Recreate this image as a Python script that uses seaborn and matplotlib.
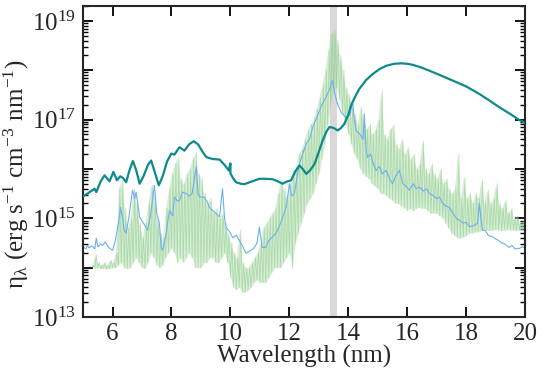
import numpy as np
import pandas as pd
import matplotlib
matplotlib.use("Agg")
import matplotlib.pyplot as plt
import matplotlib.ticker as mticker
import seaborn as sns

# ---------------- data (log10 of emissivity) ----------------
teal_wl = [5.0, 5.05, 5.2, 5.39, 5.45, 5.6, 5.73, 5.9, 6.03, 6.15, 6.26, 6.35, 6.46, 6.58, 6.69,
           6.8, 6.92, 7.05, 7.2, 7.31, 7.45, 7.57, 7.7, 7.85, 7.99, 8.1, 8.27, 8.44, 8.6, 8.75,
           8.9, 9.05, 9.18, 9.4, 9.63, 9.8, 9.94, 10.0, 10.0, 10.1, 10.19, 10.35, 10.47, 10.7,
           10.98, 11.2, 11.43, 11.6, 11.77, 11.9, 12.06, 12.2, 12.34, 12.45, 12.57, 12.7, 12.85,
           13.0, 13.13, 13.25, 13.36, 13.5, 13.64, 13.75, 13.86, 14.0, 14.09, 14.2, 14.37, 14.6,
           14.82, 15.05, 15.28, 15.55, 15.79, 16.0, 16.18, 16.45, 16.75, 17.15, 17.54, 18.0,
           18.44, 18.8, 19.12, 19.5, 19.8, 20.0]
teal_log = [15.45, 15.46, 15.52, 15.6, 15.53, 15.75, 15.87, 15.75, 15.94, 15.77, 15.85, 15.82,
            15.73, 15.98, 16.16, 15.98, 15.70, 15.85, 16.08, 16.17, 15.9, 15.67, 15.85, 16.15,
            16.31, 16.29, 16.44, 16.37, 16.5, 16.56, 16.5, 16.35, 16.24, 16.2, 16.19, 16.08,
            15.97, 16.11, 15.91, 15.8, 15.73, 15.7, 15.69, 15.74, 15.8, 15.8, 15.79, 15.75, 15.7,
            15.74, 15.77, 15.95, 16.07, 16.0, 15.9, 15.97, 16.1, 16.35, 16.58, 16.75, 16.85,
            16.83, 16.78, 16.83, 16.91, 17.1, 17.28, 17.43, 17.62, 17.8, 17.92, 18.02, 18.09,
            18.13, 18.14, 18.13, 18.11, 18.06, 17.99, 17.89, 17.79, 17.67, 17.52, 17.38, 17.25,
            17.11, 16.99, 16.93]

blue_wl = [5.0, 5.1, 5.15, 5.2, 5.3, 5.4, 5.45, 5.5, 5.6, 5.67, 5.75, 5.85, 6.0, 6.1, 6.2, 6.27,
           6.34, 6.4, 6.46, 6.55, 6.62, 6.68, 6.75, 6.8, 6.92, 7.0, 7.1, 7.19, 7.3, 7.42, 7.5,
           7.59, 7.65, 7.7, 7.8, 7.93, 8.04, 8.1, 8.2, 8.27, 8.37, 8.5, 8.6, 8.7, 8.84, 8.9, 8.95,
           9.1, 9.2, 9.29, 9.4, 9.5, 9.63, 9.73, 9.8, 9.85, 10.0, 10.08, 10.2, 10.3, 10.4, 10.53,
           10.6, 10.7, 10.8, 10.9, 10.98, 11.08, 11.2, 11.3, 11.42, 11.55, 11.7, 11.89, 12.0,
           12.08, 12.17, 12.25, 12.34, 12.45, 12.57, 12.68, 12.79, 12.9, 13.02, 13.1, 13.24,
           13.35, 13.46, 13.55, 13.63, 13.75, 13.92, 14.05, 14.14, 14.2, 14.26, 14.4, 14.5,
           14.54, 14.6, 14.65, 14.75, 14.85, 14.94, 15.05, 15.15, 15.28, 15.4, 15.5, 15.6,
           15.73, 15.85, 15.95, 16.07, 16.2, 16.3, 16.41, 16.55, 16.65, 16.75, 16.9, 17.0,
           17.09, 17.2, 17.3, 17.42, 17.55, 17.66, 17.76, 17.9, 18.0, 18.1, 18.25, 18.38,
           18.44, 18.55, 18.65, 18.75, 18.9, 19.0, 19.1, 19.2, 19.3, 19.45, 19.55, 19.65,
           19.8, 19.9, 20.0]
blue_log = [14.42, 14.38, 14.45, 14.40, 14.44, 14.38, 14.6, 14.42, 14.48, 14.45, 14.52, 14.42,
            14.35, 14.56, 14.9, 15.22, 15.0, 14.75, 14.7, 15.0, 15.3, 15.57, 15.4, 15.53, 15.02,
            14.95, 14.85, 14.76, 15.1, 15.67, 15.1, 14.9, 14.4, 14.35, 14.62, 15.16, 15.05,
            15.43, 15.35, 15.36, 15.53, 15.5, 15.45, 15.5, 16.04, 15.5, 15.43, 15.43, 15.35,
            15.22, 15.16, 15.1, 15.03, 15.6, 15.0, 14.82, 14.7, 14.6, 14.66, 14.55, 14.45,
            14.29, 14.32, 14.35, 14.4, 14.5, 14.82, 14.41, 14.41, 14.55, 14.62, 14.7, 14.9,
            15.22, 15.7, 15.45, 15.5, 15.8, 16.1, 16.3, 16.51, 16.6, 16.84, 17.0, 17.18, 17.3,
            17.45, 17.6, 17.79, 17.5, 17.32, 17.15, 17.04, 17.1, 17.38, 17.0, 16.78, 16.7,
            16.6, 17.12, 16.4, 16.23, 16.3, 16.1, 15.97, 16.05, 15.9, 15.97, 15.8, 15.7, 15.85,
            15.97, 15.7, 15.65, 15.57, 15.7, 15.6, 15.63, 15.55, 15.6, 15.5, 15.45, 15.4,
            15.43, 15.3, 15.25, 15.22, 15.1, 15.0, 14.96, 14.9, 14.92, 14.83, 14.85, 14.9,
            15.3, 14.76, 14.75, 14.65, 14.62, 14.58, 14.55, 14.5, 14.48, 14.41, 14.45, 14.38,
            14.39, 14.42, 14.4]

# green spectrum: troughs (lo) and peaks (hi), one pair every 0.1 nm from 5.3 nm
green_start = 5.3
green_lo = [14.0, 13.99, 14.0, 13.98, 13.98, 13.97, 13.98, 14.0, 14.0, 14.05, 14.1, 14.0, 13.98,
            14.0, 14.1, 14.2, 14.1, 14.0, 13.98, 14.1, 14.3, 14.2, 14.05, 14.0, 14.05, 14.2,
            14.3, 14.4, 14.3, 14.1, 14.2, 14.1, 14.2, 14.3, 14.2, 14.0, 14.0, 14.0, 14.1, 14.1,
            14.2, 14.2, 14.1, 14.1, 14.2, 14.3, 14.1, 13.8, 13.6, 13.55, 13.6, 13.5, 13.5,
            13.55, 13.6, 13.7, 13.75, 13.7, 13.7, 13.7, 13.8, 13.9, 14.0, 14.0, 14.0, 14.1,
            14.2, 14.3, 13.99, 14.5, 14.7, 14.9, 15.1, 15.3, 15.4, 15.5, 15.7, 15.9, 16.2,
            16.5, 16.9, 17.3, 17.6, 17.65, 17.4, 17.1, 16.9, 16.72, 16.5, 16.3, 16.2, 16.0,
            15.9, 15.85, 15.8, 15.7, 15.65, 15.6, 15.5, 15.5, 15.45, 15.4, 15.36, 15.3, 15.3,
            15.25, 15.2, 15.16, 15.2, 15.15, 15.2, 15.22, 15.2, 15.2, 15.15, 15.1, 15.1, 15.1,
            15.05, 15.0, 14.9, 14.8, 14.7, 14.65, 14.6, 14.6, 14.62, 14.65, 14.7, 14.7, 14.72,
            14.72, 14.75, 14.75, 14.76, 14.75, 14.76, 14.77, 14.76, 14.75, 14.76, 14.77, 14.76,
            14.76, 14.75, 14.76, 14.75, 14.76]
green_hi = [14.05, 14.25, 14.1, 14.05, 14.1, 14.05, 14.15, 14.1, 14.3, 15.6, 15.77, 15.2, 14.8,
            15.0, 15.6, 15.3, 14.9, 14.6, 14.9, 15.3, 15.67, 15.5, 15.0, 14.7, 14.6, 15.2, 15.6,
            15.9, 16.1, 16.23, 15.8, 15.7, 15.9, 16.0, 16.2, 16.33, 15.9, 15.8, 15.5, 15.3,
            15.4, 15.1, 15.2, 15.0, 15.1, 14.9, 14.7, 14.5, 14.3, 14.2, 14.76, 14.1, 14.0, 14.0,
            14.1, 14.2, 14.3, 14.5, 14.8, 14.9, 15.0, 15.1, 15.2, 15.5, 15.77, 15.6, 15.4, 15.7,
            15.97, 16.0, 16.3, 16.4, 16.6, 16.78, 16.9, 17.0, 17.2, 17.45, 17.7, 18.0, 18.4,
            18.75, 18.8, 18.6, 18.3, 18.0, 17.65, 17.5, 17.3, 17.1, 16.9, 17.25, 17.0, 16.8,
            16.9, 16.7, 16.8, 17.0, 17.59, 16.7, 16.6, 16.8, 16.9, 16.5, 16.4, 16.6, 16.3, 16.43,
            16.2, 16.3, 16.0, 16.1, 16.57, 16.0, 15.9, 16.1, 15.9, 15.8, 16.0, 15.7, 15.8, 15.6,
            15.5, 15.6, 16.3, 15.4, 15.83, 15.4, 15.5, 15.3, 15.5, 15.4, 15.77, 15.3, 15.57,
            15.3, 15.4, 15.7, 15.3, 15.2, 15.36, 15.1, 15.2, 15.0, 15.05, 14.9, 14.95, 14.85]

band = (13.36, 13.6)
y_decades = [13, 14, 15, 16, 17, 18, 19]

# ---------------- build frames ----------------
teal_df = pd.DataFrame({"wl": teal_wl, "eta": 10.0 ** np.array(teal_log)})
blue_df = pd.DataFrame({"wl": blue_wl, "eta": 10.0 ** np.array(blue_log)})
n = len(green_lo)
g_x_lo = green_start + 0.1 * np.arange(n)
g_x_hi = g_x_lo + 0.05
gx = np.empty(2 * n); gy = np.empty(2 * n)
gx[0::2] = g_x_lo; gx[1::2] = g_x_hi
gy[0::2] = green_lo; gy[1::2] = green_hi
green_df = pd.DataFrame({"wl": gx, "eta": 10.0 ** gy})

# ---------------- style ----------------
sns.set_style("ticks")
plt.rcParams["font.family"] = ["Liberation Serif", "DejaVu Serif"]
plt.rcParams["mathtext.fontset"] = "stix"
plt.rcParams["axes.linewidth"] = 1.5

fig = plt.figure(figsize=(5.5, 3.76), dpi=100)
ax = fig.add_axes([0.151, 0.157, 0.804, 0.827])

ax.axvspan(band[0], band[1], color="#d9d9d9", lw=0, zorder=0)

# green: translucent band between troughs and peaks plus the spiky trace
ax.fill_between(g_x_lo, 10.0 ** np.array(green_lo), 10.0 ** np.array(green_hi),
                color="#a8d9a4", alpha=0.45, lw=0, zorder=1)
sns.lineplot(data=green_df, x="wl", y="eta", ax=ax, color="#8ccc88", lw=0.55, alpha=0.6,
             estimator=None, sort=False, zorder=1)
sns.lineplot(data=blue_df, x="wl", y="eta", ax=ax, color="#6eaff0", lw=0.8,
             estimator=None, sort=False, zorder=2)
ax.plot(teal_df["wl"], teal_df["eta"], color="#0c8a8c", lw=1.6, zorder=3,
        solid_joinstyle="round")

ax.set_yscale("log")
ax.set_xlim(5, 20)
ax.set_ylim(1e13, 2e19)

ax.xaxis.set_major_locator(mticker.MultipleLocator(2))
ax.yaxis.set_major_locator(mticker.FixedLocator([10.0 ** e for e in y_decades]))
ax.yaxis.set_minor_locator(mticker.LogLocator(base=10, subs=np.arange(2, 10), numticks=20))
ax.yaxis.set_major_formatter(mticker.FixedFormatter(
    [r"$\mathregular{10^{%d}}$" % e if e % 2 == 1 else "" for e in y_decades]))
ax.yaxis.set_minor_formatter(mticker.NullFormatter())

ax.tick_params(axis="both", which="both", direction="in", top=True, right=True,
               labelsize=18, width=1.3, color="black", pad=5)
ax.tick_params(axis="both", which="major", length=7)
ax.tick_params(axis="y", which="minor", length=3.5, width=1.0)
ax.tick_params(axis="x", which="minor", bottom=False, top=False)
ax.tick_params(axis="x", which="major", pad=4)

for s in ax.spines.values():
    s.set_visible(True)
    s.set_linewidth(1.5)

ax.set_xlabel("Wavelength (nm)", fontsize=18)
ax.xaxis.set_label_coords(0.5, -0.09)
ax.set_ylabel(r"η$_{\mathregular{λ}}$ (erg s$^{\mathregular{-1}}$ cm$^{\mathregular{-3}}$ nm$^{\mathregular{-1}}$)",
              fontsize=18)
ax.yaxis.set_label_coords(-0.117, 0.46)

fig.savefig("out.png", dpi=100)
